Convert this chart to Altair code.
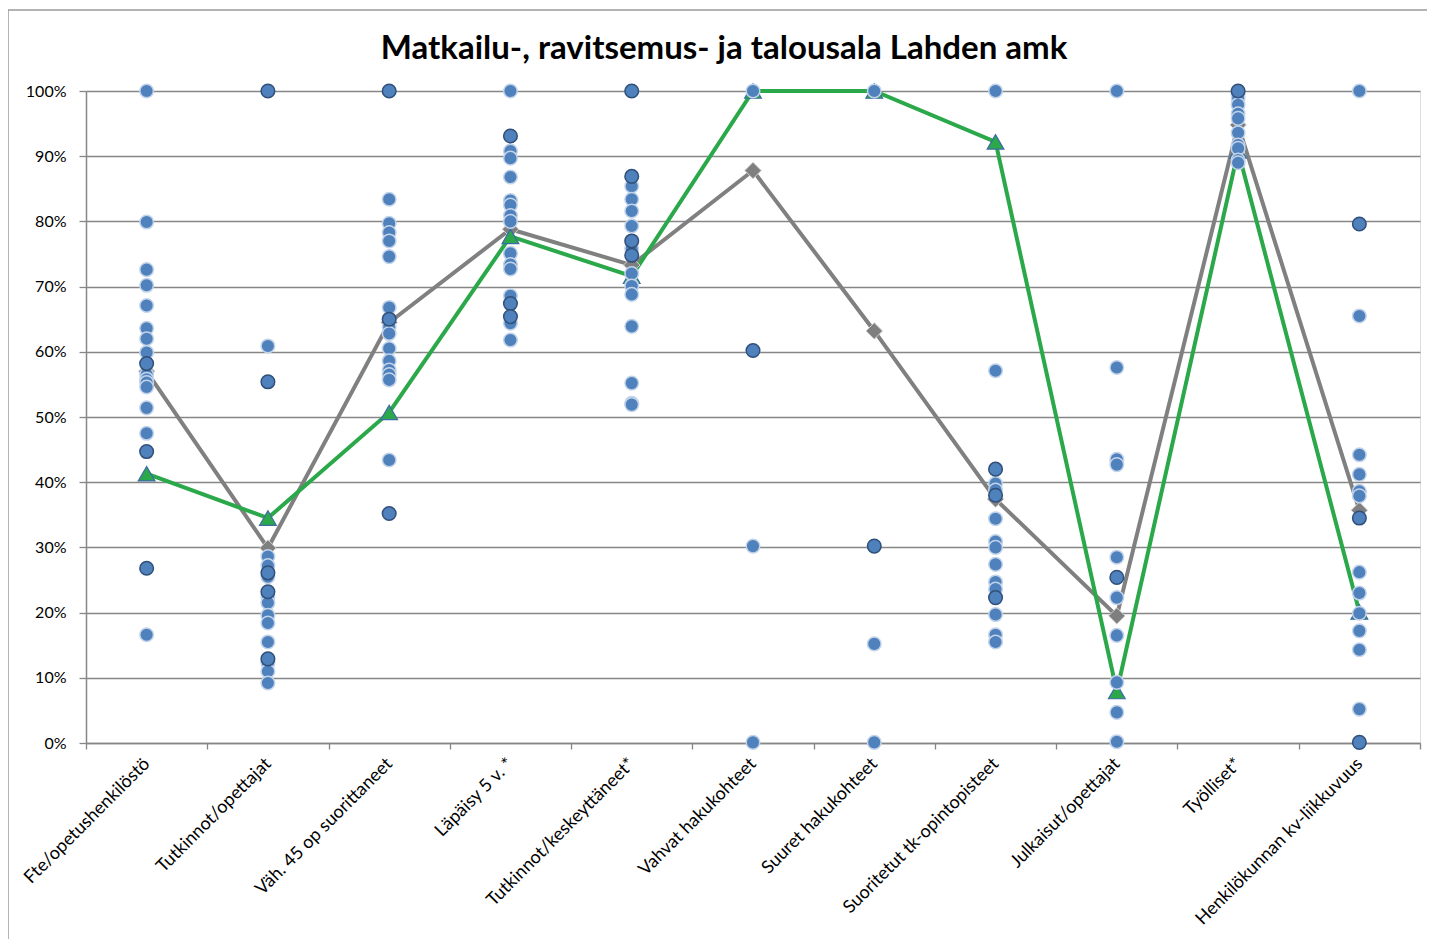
import altair as alt
import pandas as pd

categories = [
    "Fte/opetushenkilöstö", "Tutkinnot/opettajat", "Väh. 45 op suorittaneet",
    "Läpäisy 5 v. *", "Tutkinnot/keskeyttäneet*", "Vahvat hakukohteet",
    "Suuret hakukohteet", "Suoritetut tk-opintopisteet", "Julkaisut/opettajat",
    "Työlliset*", "Henkilökunnan kv-liikkuvuus",
]

# other units of the sector (percent), light-outlined markers
light_values = [
    [100, 79.9, 72.6, 70.2, 67.1, 63.6, 62.0, 59.9, 56.5, 55.8, 55.3, 54.6, 51.4, 47.5, 16.6],
    [60.9, 28.6, 27.2, 25.5, 22.4, 21.5, 19.6, 18.4, 15.5, 12.3, 11.0, 9.2],
    [83.4, 79.7, 78.3, 77.0, 74.6, 66.8, 63.8, 62.8, 60.5, 58.6, 57.2, 56.5, 55.7, 43.4],
    [100, 90.8, 89.7, 86.8, 83.2, 82.5, 80.9, 80.0, 75.1, 73.4, 72.7, 68.6, 64.4, 61.8],
    [85.4, 83.4, 81.6, 79.3, 75.8, 72.0, 70.1, 68.8, 63.9, 55.2, 52.1, 51.9],
    [100, 30.2, 0.1],
    [100, 15.2, 0.1],
    [100, 57.1, 39.8, 38.8, 34.4, 30.9, 30.0, 27.4, 24.7, 23.6, 19.7, 16.6, 15.5],
    [100, 57.6, 43.5, 42.7, 28.5, 22.3, 16.5, 9.3, 4.7, 0.2],
    [99.5, 98.9, 97.9, 96.5, 95.8, 93.6, 91.7, 91.2, 89.4, 89.0],
    [100, 65.5, 44.2, 41.2, 38.6, 37.9, 26.2, 23.0, 19.9, 17.2, 14.3, 5.2],
]
# markers with dark outline
dark_values = [
    [58.2, 44.7, 26.8],
    [100, 55.4, 26.1, 23.2, 12.9],
    [100, 65.0, 35.2],
    [93.1, 67.4, 65.4],
    [100, 86.9, 77.0, 74.8],
    [60.2],
    [30.2],
    [42.0, 38.0, 22.3],
    [25.4],
    [100],
    [79.6, 34.5, 0.1],
]

average = [57.0, 29.9, 64.5, 78.8, 73.3, 87.8, 63.2, 37.4, 19.5, 94.8, 35.7]
lahden_amk = [41.3, 34.5, 50.7, 77.7, 71.6, 100, 100, 92.2, 7.9, 90.8, 20.1]

rows = []
for cat, lv, dv in zip(categories, light_values, dark_values):
    for v in lv:
        rows.append({"cat": cat, "v": v / 100, "outline": "light"})
    for v in dv:
        rows.append({"cat": cat, "v": v / 100, "outline": "dark"})
dots = pd.DataFrame(rows)

avg_df = pd.DataFrame({"cat": categories, "v": [a / 100 for a in average]})
amk_df = pd.DataFrame({"cat": categories, "v": [a / 100 for a in lahden_amk]})

FONT = "Lato"
xscale = alt.Scale(domain=categories, type="band", paddingInner=0, paddingOuter=0)
yscale = alt.Scale(domain=[0, 1], nice=False)

xenc = alt.X("cat:N", scale=xscale, sort=categories, title=None,
             axis=alt.Axis(labelAngle=-45, labelAlign="right", labelBaseline="middle",
                           labelPadding=12, tickBand="extent", tickSize=6,
                           tickColor="#868686", domainColor="#868686", domainWidth=1.5,
                           tickWidth=1.3, labelFontSize=18, labelFont=FONT,
                           labelColor="#000000", grid=False, labelLimit=400))
yenc = alt.Y("v:Q", scale=yscale, title=None,
             axis=alt.Axis(values=[i / 10 for i in range(11)], format=".0%",
                           labelFontSize=16, labelFont=FONT, labelColor="#000000",
                           tickSize=7, tickColor="#868686", tickWidth=1.3,
                           domainColor="#868686", domainWidth=1.5,
                           gridColor="#868686", gridWidth=1.3, labelPadding=13))

border = alt.Chart(pd.DataFrame({"k": [0]})).mark_rule(color="#9a9a9a", strokeWidth=1.5).encode(
    x=alt.value(-78), x2=alt.value(-78), y=alt.value(-81), y2=alt.value(870)
)
border_top = alt.Chart(pd.DataFrame({"k": [0]})).mark_rule(color="#9a9a9a", strokeWidth=1.5).encode(
    x=alt.value(-78), x2=alt.value(1345), y=alt.value(-81), y2=alt.value(-81)
)

avg_line = alt.Chart(avg_df).mark_line(color="#808080", strokeWidth=4).encode(x=xenc, y=yenc)
avg_pts = alt.Chart(avg_df).mark_point(shape="diamond", filled=True, size=270, fill="#7F7F7F",
                                       stroke="#D0D0D0", strokeWidth=1, opacity=1).encode(x=xenc, y=yenc)
amk_line = alt.Chart(amk_df).mark_line(color="#2AA84A", strokeWidth=4).encode(x=xenc, y=yenc)
amk_pts = alt.Chart(amk_df).mark_point(shape="triangle-up", filled=True, size=280, fill="#2AA84A",
                                       stroke="#3D6AA8", strokeWidth=1.2, opacity=1).encode(x=xenc, y=yenc)

dot_layer = alt.Chart(dots).mark_point(filled=True, size=185, fill="#4F81BD", strokeWidth=1.5,
                                       opacity=1).encode(
    x=xenc, y=yenc,
    stroke=alt.Stroke("outline:N", scale=alt.Scale(domain=["light", "dark"],
                                                   range=["#C3D4EA", "#30507A"]), legend=None),
)

chart = alt.layer(border, border_top, avg_line, amk_line, avg_pts, amk_pts, dot_layer).properties(
    width=1334, height=652,
    title=alt.TitleParams("Matkailu-, ravitsemus- ja talousala Lahden amk", font=FONT,
                          fontSize=33, fontWeight="bold", color="#000000", anchor="middle",
                          dx=-29, offset=-57),
    autosize=alt.AutoSizeParams(type="none"),
    padding={"left": 78, "top": 83, "right": 7, "bottom": 196},
).configure_view(stroke=None).configure(background="white")

chart.save("out.html", embed_options={"renderer": "svg", "actions": False})
